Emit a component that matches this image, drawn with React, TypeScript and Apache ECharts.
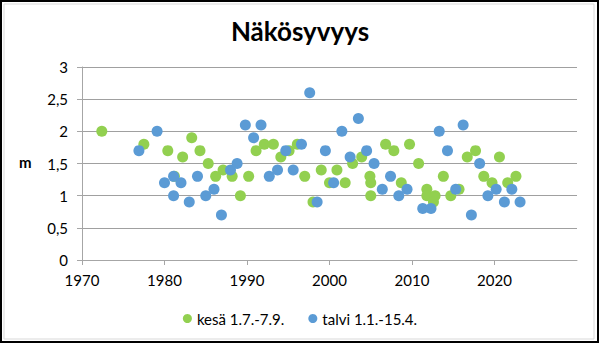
import React, { useEffect, useRef } from "react";
import * as echarts from "echarts";

const summerYears = [1972.4, 1977.5, 1980.4, 1981.2, 1982.2, 1983.3, 1984.3, 1985.3, 1986.2, 1987.1, 1988.2, 1989.2, 1990.2, 1991.1, 1992.1, 1993.2, 1994.1, 1995.1, 1996.1, 1997.0, 1998.0, 1999.0, 2000.0, 2000.9, 2001.9, 2002.8, 2003.9, 2004.9, 2005.0, 2005.0, 2006.8, 2007.8, 2008.7, 2009.7, 2010.8, 2011.8, 2011.8, 2012.8, 2012.6, 2013.8, 2014.7, 2015.7, 2016.7, 2017.7, 2018.7, 2019.7, 2020.6, 2021.6, 2022.6];
const summerValues = [2.0, 1.8, 1.7, 1.3, 1.6, 1.9, 1.7, 1.5, 1.3, 1.4, 1.3, 1.0, 1.3, 1.7, 1.8, 1.8, 1.6, 1.7, 1.8, 1.3, 0.9, 1.4, 1.2, 1.4, 1.2, 1.5, 1.6, 1.3, 1.2, 1.0, 1.8, 1.7, 1.2, 1.8, 1.5, 1.1, 1.0, 1.0, 0.9, 1.3, 1.0, 1.1, 1.6, 1.7, 1.3, 1.2, 1.6, 1.2, 1.3];

const winterYears = [1976.9, 1979.1, 1980.0, 1981.1, 1981.1, 1982.0, 1983.0, 1984.0, 1985.0, 1986.0, 1986.9, 1988.0, 1988.8, 1989.8, 1990.8, 1991.7, 1992.7, 1993.7, 1994.7, 1995.6, 1996.6, 1997.6, 1998.5, 1999.5, 2000.5, 2001.5, 2002.5, 2003.5, 2004.5, 2005.4, 2006.4, 2007.4, 2008.4, 2009.4, 2011.3, 2012.3, 2013.3, 2014.3, 2015.3, 2016.2, 2017.2, 2018.2, 2019.2, 2020.2, 2021.2, 2022.1, 2023.1];
const winterValues = [1.7, 2.0, 1.2, 1.3, 1.0, 1.2, 0.9, 1.3, 1.0, 1.1, 0.7, 1.4, 1.5, 2.1, 1.9, 2.1, 1.3, 1.4, 1.7, 1.4, 1.8, 2.6, 0.9, 1.7, 1.2, 2.0, 1.6, 2.2, 1.7, 1.5, 1.1, 1.3, 1.0, 1.1, 0.8, 0.8, 2.0, 1.7, 1.1, 2.1, 0.7, 1.5, 1.0, 1.1, 0.9, 1.1, 0.9];

const seriesNames = ["kesä 1.7.-7.9.", "talvi 1.1.-15.4."];
const title = "Näkösyvyys";
const yAxisName = "m";

const FONT = "Lato, 'Open Sans', sans-serif";

export default function App() {
  const ref = useRef<HTMLDivElement>(null);
  useEffect(() => {
    if (!ref.current) return;
    const chart = echarts.init(ref.current, null, { renderer: "svg" });
    const pair = (xs: number[], ys: number[]) => xs.map((x, i) => [x, ys[i]]);
    chart.setOption({
      animation: false,
      backgroundColor: "#ffffff",
      textStyle: { fontFamily: FONT },
      title: {
        text: title,
        left: "center",
        top: 13,
        textStyle: { fontFamily: FONT, fontSize: 26, fontWeight: "bold", color: "#000" },
      },
      graphic: [
        { type: "rect", shape: { x: 1, y: 1, width: 597, height: 341 }, style: { fill: "none", stroke: "#000", lineWidth: 2 }, silent: true },
        { type: "rect", shape: { x: 4, y: 4, width: 590, height: 335 }, style: { fill: "none", stroke: "#d9d9d9", lineWidth: 1 }, silent: true },
        { type: "text", left: 19, top: 154, style: { text: yAxisName, fontFamily: FONT, fontSize: 15, fontWeight: "bold", fill: "#000" } },
      ],
      legend: {
        bottom: 13,
        left: "center",
        icon: "circle",
        itemWidth: 9,
        itemHeight: 9,
        itemGap: 24,
        textStyle: { fontFamily: FONT, fontSize: 15, color: "#000" },
        data: seriesNames,
      },
      grid: { left: 82, right: 23, top: 67, bottom: 84 },
      xAxis: {
        type: "value",
        min: 1970,
        max: 2030,
        interval: 10,
        splitLine: { show: false },
        axisLine: { show: true, lineStyle: { color: "#a6a6a6" } },
        axisTick: { show: true, length: 5, lineStyle: { color: "#a6a6a6" } },
        axisLabel: {
          fontFamily: FONT,
          fontSize: 15,
          color: "#000",
          margin: 12,
          showMaxLabel: false,
          formatter: (v: number) => String(v),
        },
      },
      yAxis: {
        type: "value",
        min: 0,
        max: 3,
        interval: 0.5,
        axisLine: { show: true, lineStyle: { color: "#a6a6a6" } },
        axisTick: { show: true, length: 5, lineStyle: { color: "#a6a6a6" } },
        splitLine: { show: true, lineStyle: { color: "#a0a0a0", width: 1 } },
        axisLabel: {
          fontFamily: FONT,
          fontSize: 15,
          color: "#000",
          margin: 14,
          formatter: (v: number) => String(v).replace(".", ","),
        },
      },
      series: [
        {
          name: seriesNames[0],
          type: "scatter",
          symbolSize: 11,
          itemStyle: { color: "#92d050", opacity: 1 },
          data: pair(summerYears, summerValues),
        },
        {
          name: seriesNames[1],
          type: "scatter",
          symbolSize: 11,
          itemStyle: { color: "#5b9bd5", opacity: 1 },
          data: pair(winterYears, winterValues),
        },
      ],
    });
    return () => chart.dispose();
  }, []);
  return (
    <div style={{ position: "fixed", left: 0, top: 0, width: 600, height: 344 }}>
      <div ref={ref} style={{ width: 600, height: 344 }} />
    </div>
  );
}
